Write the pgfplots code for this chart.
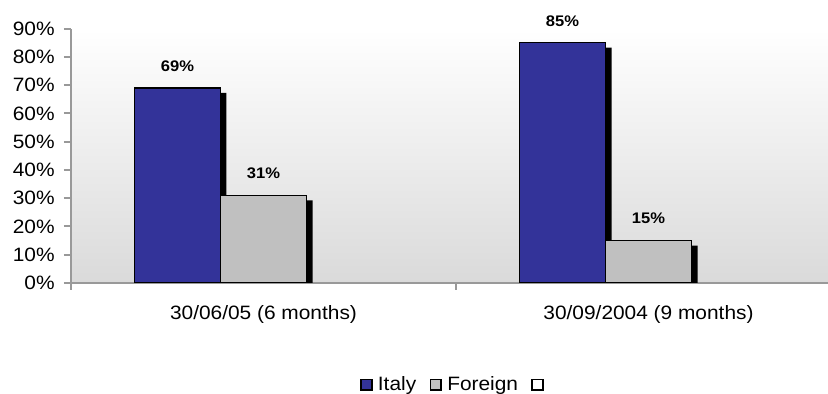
\documentclass[border=0pt]{standalone}
\usepackage{fontspec}
\setmainfont{Liberation Sans}[FakeStretch=1.08]
\usepackage{pgfplots}
\pgfplotsset{compat=1.18}
\definecolor{italy}{HTML}{333399}
\definecolor{foreign}{HTML}{C0C0C0}
\definecolor{axisgray}{HTML}{999999}
\definecolor{bgbottom}{HTML}{DADADA}
\begin{document}
\begin{tikzpicture}
\pgfplotsset{
  sqlegend/.style={legend image code/.code={\draw[##1,draw=black,line width=1.3pt] (0pt,-4pt) rectangle (8pt,4pt);}},
}
\begin{axis}[
  name=ax,
  scale only axis,
  width=577.5pt, height=190.8pt,
  xmin=-0.5, xmax=1.5,
  ymin=0, ymax=90,
  ybar,
  bar width=0.22338,
  axis lines*=left,
  axis line style={draw=axisgray, line width=1.5pt},
  tick style={draw=axisgray, line width=1.5pt},
  tick align=outside,
  major tick length=5.25pt,
  xtick={-0.5,0.5,1.5},
  x tick label as interval,
  xticklabels={30/06/05 (6 months), 30/09/2004 (9 months)},
  ytick={0,10,...,90},
  yticklabel={\pgfmathprintnumber{\tick}\%},
  /pgf/number format/assume math mode=true,
  tick label style={font=\fontsize{14.5}{17}\selectfont},
  yticklabel style={xshift=-3.5pt},
  xticklabel style={yshift=-8pt},
  axis background/.style={top color=white, bottom color=bgbottom},
  legend style={at={(0.5,-0.40)}, anchor=center, draw=none, fill=none,
    font=\fontsize{14.5}{17}\selectfont, legend columns=-1,
    /tikz/every odd column/.append style={column sep=2pt},
    /tikz/every even column/.append style={column sep=8pt}},
  every node near coord/.append style={font=\fontsize{11.5}{13}\bfseries\selectfont, yshift=8.5pt, black},
]
% shadows
\addplot[ybar, fill=black, draw=none, bar shift=-0.20780, yshift=-3.75pt, forget plot]
  coordinates {(0,69) (1,85)};
\addplot[ybar, fill=black, draw=none, bar shift=0.01558, yshift=-3.75pt, forget plot]
  coordinates {(0,31) (1,15)};
% bars
\addplot[ybar, fill=italy, draw=black, line width=1.1pt, bar shift=-0.22338, sqlegend,
  nodes near coords={\pgfmathprintnumber{\pgfplotspointmeta}\%}]
  coordinates {(0,69) (1,85)};
\addlegendentry{Italy}
\addplot[ybar, fill=foreign, draw=black, line width=1.1pt, bar shift=0, sqlegend,
  nodes near coords={\pgfmathprintnumber{\pgfplotspointmeta}\%}]
  coordinates {(0,31) (1,15)};
\addlegendentry{Foreign}
\addlegendimage{fill=white, draw=black, sqlegend}
\addlegendentry{}
\end{axis}
\pgfresetboundingbox
\path ([xshift=-53.25pt, yshift=-83.25pt]ax.south west) rectangle ([xshift=-9.75pt, yshift=21.45pt]ax.north east);
\end{tikzpicture}
\end{document}
